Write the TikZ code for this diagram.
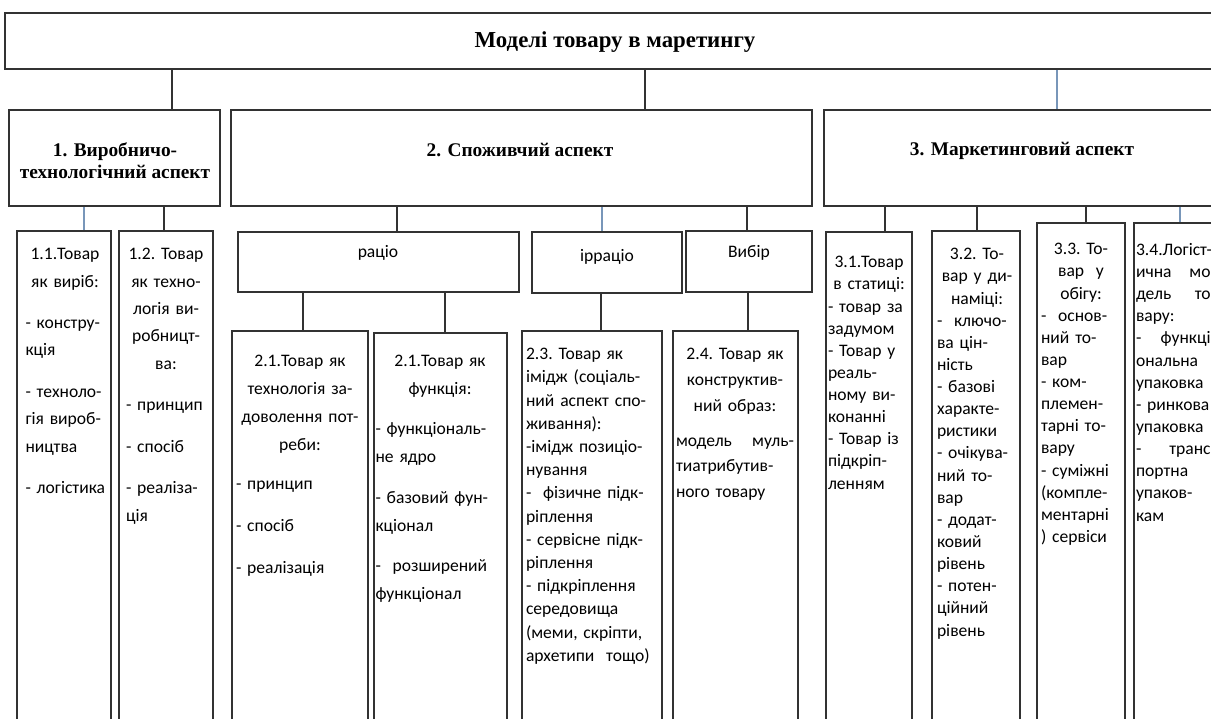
\documentclass[tikz,border=0pt]{standalone}
\usepackage{fontspec}
\setmainfont{Liberation Serif}
\newfontfamily\bodyfont{Carlito}
\usetikzlibrary{fit}
\definecolor{linegray}{RGB}{50,50,50}
\definecolor{linkblue}{RGB}{120,150,185}
\exhyphenpenalty=10000

\tikzset{
  box/.style={draw=linegray, line width=1pt, inner sep=0pt},
  link/.style={linegray, line width=1pt},
  bluelink/.style={linkblue, line width=0.7pt},
  head/.style={font=\bfseries\fontsize{11}{12.5}\selectfont, align=center},
  lbl/.style={font=\bodyfont\fontsize{10}{12}\selectfont},
  txt/.style={font=\bodyfont\frenchspacing\fontsize{10}{#1}\selectfont, align=left, anchor=north, inner sep=0pt},
}

\begin{document}
\begin{tikzpicture}[x=0.02cm, y=-0.02cm]
\useasboundingbox (0,0) rectangle (1211,719);
\clip (0,0) rectangle (1211,719);
% Top box
\node[box, fit={(5,13) (1225,69)}] (top) {};
\node[head, font=\bfseries\fontsize{13}{15}\selectfont] (title) at (615,42) {Моделі товару в маретингу};
% Aspects
\node[box, fit={(9,110) (220,206)}] (asp1) {};
\node[box, fit={(231,110) (812,206)}] (asp2) {};
\node[box, fit={(824,110) (1240,206)}] (asp3) {};
\node[head] (h1) at (115,161) {1. Виробничо-\\технологічний аспект};
\node[head] (h2) at (520,150) {2. Споживчий аспект};
\node[head] (h3) at (1022,151) {3. Маркетинговий аспект};
% Consumer groups
\node[box, fit={(238,232) (519,292)}] (ratio) {};
\node[box, fit={(532,232) (682,293)}] (irratio) {};
\node[box, fit={(686,231) (812,292)}] (choice) {};
\node[lbl] (l1) at (378,253) {раціо};
\node[lbl] (l2) at (607,257) {ірраціо};
\node[lbl] (l3) at (749,253) {Вибір};
% Models
\node[box, fit={(17,231) (111,740)}] (m11) {};
\node[box, fit={(119,231) (213,740)}] (m12) {};
\node[box, fit={(232,331) (368,740)}] (m21) {};
\node[box, fit={(374,333) (507,740)}] (m22) {};
\node[box, fit={(522,331) (662,740)}] (m23) {};
\node[box, fit={(673,331) (798,740)}] (m24) {};
\node[box, fit={(826,232) (912,740)}] (m31) {};
\node[box, fit={(932,231) (1020,740)}] (m32) {};
\node[box, fit={(1037,223) (1125,740)}] (m33) {};
\node[box, fit={(1134,223) (1260,740)}] (m34) {};

% Connectors
\foreach \x/\a/\b in {172/top/asp1, 645/top/asp2, 164/asp1/m12, 397/asp2/ratio,
    747/asp2/choice, 303/ratio/m21, 445/ratio/m22, 601/irratio/m23, 748/choice/m24,
    885/asp3/m31, 977/asp3/m32, 1086/asp3/m33} {
  \coordinate (k) at (\x,0);
  \draw[link] (\a.south -| k) -- (\b.north -| k);
}
\foreach \x/\a/\b in {1057/top/asp3, 84/asp1/m11, 602/asp2/irratio, 1180/asp3/m34} {
  \coordinate (k) at (\x,0);
  \draw[bluelink] (\a.south -| k) -- (\b.north -| k);
}

% Texts of models
\node[txt=15.6pt, text width=1.58cm] (t11) at (65,248) {{\centering 1.1.Товар\\ як виріб:\par}\vspace{8pt}
  -~констру-\\ кція\\[8pt] -~техноло-\\ гія вироб-\\ ництва\\[8pt] -~логістика};
\node[txt=15.6pt, text width=1.6cm] (t12) at (166,248) {{\centering 1.2. Товар\\ як техно-\\ логія ви-\\ робницт-\\ ва:\par}\vspace{8pt}
  -~принцип\\[8pt] -~спосіб\\[8pt] -~реаліза-\\ ція};
\node[txt=15.9pt, text width=2.56cm] (t21) at (300,355) {{\centering 2.1.Товар як\\ технологія за-\\ доволення пот-\\ реби:\par}\vspace{6pt}
  -~принцип\\[8pt] -~спосіб\\[8pt] -~реалізація};
\node[txt=15.9pt, text width=2.58cm] (t22) at (440,355) {{\centering 2.1.Товар як\\ функція:\par}\vspace{7pt}
  -~функціональ-\\ не ядро\\[7pt] -~базовий фун-\\ кціонал\\[7pt] -~~розширений\\ функціонал};
\node[txt=13.2pt, text width=2.6cm] (t23) at (591,348) {2.3. Товар як\\ імідж (соціаль-\\ ний аспект спо-\\ живання):\\
  -імідж позиціо-\\ нування\\ -~~фізичне підк-\\ ріплення\\ -~сервісне підк-\\ ріплення\\
  -~підкріплення\\ середовища\\ (меми, скріпти,\\ архетипи~~тощо)};
\node[txt=14.7pt, text width=2.36cm] (t24) at (735,348) {{\centering 2.4. Товар як\\ конструктив-\\ ний образ:\par}\vspace{5pt}
  модель\hfill муль-\\ тиатрибутив-\\ ного товару};
\node[txt=12.6pt, text width=1.64cm] (t31) at (869,256) {{\centering 3.1.Товар\\ в статиці:\par}
  -~товар за\\ задумом\\ -~Товар у\\ реаль-\\ ному ви-\\ конанні\\ -~Товар із\\ підкріп-\\ ленням};
\node[txt=12.6pt, text width=1.6cm] (t32) at (977,248) {{\centering 3.2. То-\\ вар у ди-\\ наміці:\par}
  -~~ключо-\\ ва цін-\\ ність\\ -~базові\\ характе-\\ ристики\\ -~очікува-\\ ний то-\\ вар\\
  -~додат-\\ ковий\\ рівень\\ -~потен-\\ ційний\\ рівень};
\node[txt=12.6pt, text width=1.6cm] (t33) at (1081,243) {{\centering 3.3. То-\\ вар~~у\\ обігу:\par}
  -~~основ-\\ ний то-\\ вар\\ -~ком-\\ племен-\\ тарні то-\\ вару\\ -~суміжні\\ (компле-\\ ментарні\\ ) сервіси};
\node[txt=12.6pt, text width=1.6cm] (t34) at (1176,243) {3.4.Логіст-\\ ична\hfill мо-\\ дель\hfill то-\\ вару:\\
  -\hfill функці-\\ ональна\\ упаковка\\ -~ринкова\\ упаковка\\ -\hfill транс-\\ портна\\ упаков-\\ кам};
\end{tikzpicture}
\end{document}
